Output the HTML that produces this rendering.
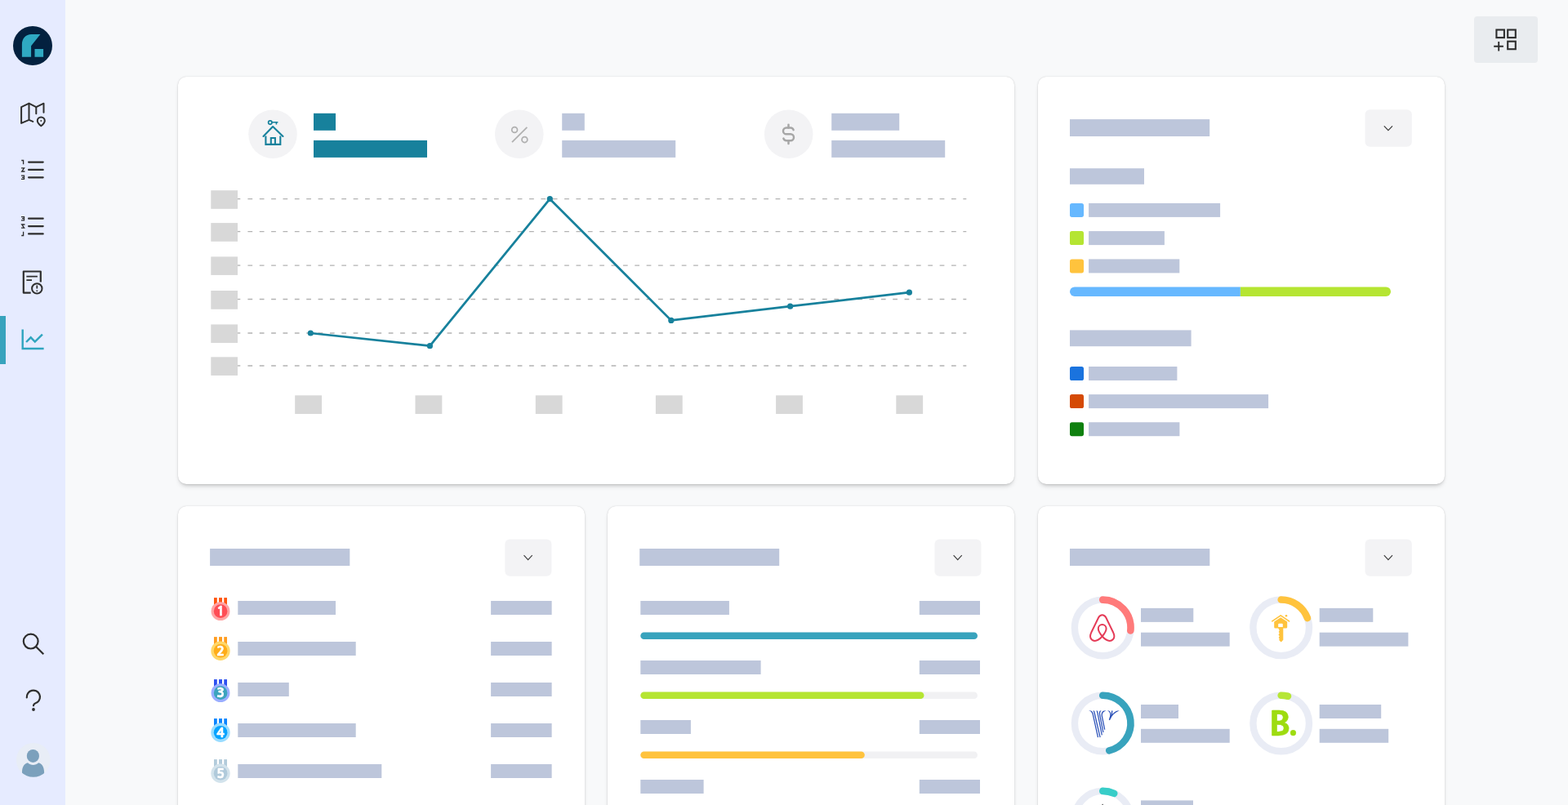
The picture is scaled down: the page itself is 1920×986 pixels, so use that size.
<!DOCTYPE html>
<html lang="en">
<head>
<meta charset="utf-8">
<title>Dashboard</title>
<style>
*{box-sizing:border-box;margin:0;padding:0}
html,body{width:1920px;height:986px;overflow:hidden;background:#f8f9fa;font-family:"Liberation Sans",sans-serif}
#app{position:relative;width:1920px;height:986px;overflow:hidden;background:#f8f9fa}
.side{position:absolute;left:0;top:0;width:80px;height:986px;background:#e6ebff}
.card{position:absolute;background:#fff;border-radius:10px;box-shadow:0 4px 6px -3px rgba(0,0,0,.28),0 0 3px rgba(0,0,0,.08),0 0 1px rgba(0,0,0,.16)}
#art{position:absolute;left:0;top:0;width:1920px;height:986px;overflow:hidden}
.num{font-family:"NanumGothic","Liberation Sans",sans-serif;font-weight:800;fill:#fff;stroke:#fff;stroke-width:.45px;stroke-linejoin:round}
.logo-b{font-family:"NanumGothic","Liberation Sans",sans-serif;font-weight:800;fill:#9edc10;stroke:#9edc10;stroke-width:.5px;stroke-linejoin:round}
</style>
</head>
<body>
<div id="app">
<main>
<section class="card" id="overview" style="left:218px;top:94px;width:1024px;height:499px"></section>
<section class="card" id="properties" style="left:1271px;top:94px;width:498px;height:499px"></section>
<section class="card" id="ranking" style="left:218px;top:620px;width:498px;height:420px"></section>
<section class="card" id="occupancy" style="left:744px;top:620px;width:498px;height:420px"></section>
<section class="card" id="channels" style="left:1271px;top:620px;width:498px;height:420px"></section>
</main>
<nav class="side"></nav>
<svg id="art" width="1920" height="986" viewBox="0 0 1920 986">
<g id="blocks">
<rect x="0" y="387" width="7" height="59" fill="#38a3bd"/>
<rect x="1805" y="20" width="78" height="57" rx="4" fill="#e9ecef"/>
<rect x="384" y="138.8" width="27" height="21" fill="#17819c"/>
<rect x="384" y="171.9" width="139" height="21" fill="#17819c"/>
<rect x="688.2" y="138.8" width="27.6" height="21" fill="#bdc6db"/>
<rect x="688.2" y="171.9" width="139" height="21" fill="#bdc6db"/>
<rect x="1018.2" y="138.8" width="83" height="21" fill="#bdc6db"/>
<rect x="1018.2" y="171.9" width="139" height="21" fill="#bdc6db"/>
<rect x="258.3" y="233.2" width="32.7" height="22.6" fill="#d8d8d8"/>
<rect x="258.3" y="273.1" width="32.7" height="22.7" fill="#d8d8d8"/>
<rect x="258.3" y="314.4" width="32.7" height="22.5" fill="#d8d8d8"/>
<rect x="258.3" y="356" width="32.7" height="22.75" fill="#d8d8d8"/>
<rect x="258.3" y="397.4" width="32.7" height="22.6" fill="#d8d8d8"/>
<rect x="258.3" y="437.3" width="32.7" height="22.6" fill="#d8d8d8"/>
<rect x="361.2" y="484.3" width="32.8" height="22.7" fill="#d8d8d8"/>
<rect x="508.5" y="484.3" width="32.8" height="22.7" fill="#d8d8d8"/>
<rect x="655.8" y="484.3" width="32.8" height="22.7" fill="#d8d8d8"/>
<rect x="802.9" y="484.3" width="32.8" height="22.7" fill="#d8d8d8"/>
<rect x="950.1" y="484.3" width="32.8" height="22.7" fill="#d8d8d8"/>
<rect x="1097.3" y="484.3" width="32.8" height="22.7" fill="#d8d8d8"/>
<rect x="1310" y="146.1" width="171.2" height="20.9" fill="#bdc6db"/>
<rect x="1671.5" y="134.3" width="57.3" height="45.5" rx="6" fill="#f3f3f5"/>
<rect x="1310" y="206.2" width="91" height="19.6" fill="#bdc6db"/>
<rect x="1310" y="248.9" width="17" height="17" rx="2.6" fill="#66b8ff"/>
<rect x="1333.1" y="248.9" width="161" height="17" fill="#bdc6db"/>
<rect x="1310" y="283.1" width="17" height="17" rx="2.6" fill="#b5e532"/>
<rect x="1333.1" y="283.1" width="92.8" height="17" fill="#bdc6db"/>
<rect x="1310" y="317.4" width="17" height="17" rx="2.6" fill="#ffc33d"/>
<rect x="1333.1" y="317.4" width="111.2" height="17" fill="#bdc6db"/>
<rect x="1310" y="404.4" width="148.6" height="19.8" fill="#bdc6db"/>
<rect x="1310" y="449" width="17" height="17" rx="2.6" fill="#1a73de"/>
<rect x="1333.1" y="449" width="108.3" height="17" fill="#bdc6db"/>
<rect x="1310" y="483.1" width="17" height="17" rx="2.6" fill="#d54a05"/>
<rect x="1333.1" y="483.1" width="220" height="17" fill="#bdc6db"/>
<rect x="1310" y="517.2" width="17" height="17" rx="2.6" fill="#0f800f"/>
<rect x="1333.1" y="517.2" width="111.3" height="17" fill="#bdc6db"/>
<rect x="257.1" y="672" width="171.2" height="21" fill="#bdc6db"/>
<rect x="618.3" y="660.5" width="57.1" height="45.2" rx="6" fill="#f3f3f5"/>
<rect x="291.3" y="736" width="119.7" height="17" fill="#bdc6db"/>
<rect x="601.1" y="736" width="74.5" height="17" fill="#bdc6db"/>
<rect x="291.3" y="786" width="144.4" height="17" fill="#bdc6db"/>
<rect x="601.1" y="786" width="74.5" height="17" fill="#bdc6db"/>
<rect x="291.3" y="836" width="62.5" height="17" fill="#bdc6db"/>
<rect x="601.1" y="836" width="74.5" height="17" fill="#bdc6db"/>
<rect x="291.3" y="886" width="144.4" height="17" fill="#bdc6db"/>
<rect x="601.1" y="886" width="74.5" height="17" fill="#bdc6db"/>
<rect x="291.3" y="936" width="176" height="17" fill="#bdc6db"/>
<rect x="601.1" y="936" width="74.5" height="17" fill="#bdc6db"/>
<rect x="783.2" y="672" width="171" height="21" fill="#bdc6db"/>
<rect x="1144.4" y="660.5" width="57.1" height="45.2" rx="6" fill="#f3f3f5"/>
<rect x="784.3" y="736" width="108.6" height="17" fill="#bdc6db"/>
<rect x="1125.8" y="736" width="74.2" height="17" fill="#bdc6db"/>
<rect x="784.3" y="774.5" width="412.7" height="8.6" rx="4.3" fill="#f1f1f3"/>
<rect x="784.3" y="774.5" width="412.7" height="8.6" rx="4.3" fill="#38a3bd"/>
<rect x="784.3" y="809" width="147.3" height="17" fill="#bdc6db"/>
<rect x="1125.8" y="809" width="74.2" height="17" fill="#bdc6db"/>
<rect x="784.3" y="847.5" width="412.7" height="8.6" rx="4.3" fill="#f1f1f3"/>
<rect x="784.3" y="847.5" width="347.2" height="8.6" rx="4.3" fill="#b5e532"/>
<rect x="784.3" y="882" width="61.6" height="17" fill="#bdc6db"/>
<rect x="1125.8" y="882" width="74.2" height="17" fill="#bdc6db"/>
<rect x="784.3" y="920.5" width="412.7" height="8.6" rx="4.3" fill="#f1f1f3"/>
<rect x="784.3" y="920.5" width="274.5" height="8.6" rx="4.3" fill="#ffc33d"/>
<rect x="784.3" y="955" width="77.3" height="17" fill="#bdc6db"/>
<rect x="1125.8" y="955" width="74.2" height="17" fill="#bdc6db"/>
<rect x="784.3" y="993.5" width="412.7" height="8.6" rx="4.3" fill="#f1f1f3"/>
<rect x="784.3" y="993.5" width="200" height="8.6" rx="4.3" fill="#66b8ff"/>
<rect x="1310" y="672" width="171.3" height="21" fill="#bdc6db"/>
<rect x="1671.5" y="660.5" width="57.3" height="45.2" rx="6" fill="#f3f3f5"/>
<rect x="1397" y="744.9" width="64.3" height="17" fill="#bdc6db"/>
<rect x="1397" y="774.7" width="108.7" height="17" fill="#bdc6db"/>
<rect x="1615.7" y="744.9" width="65.6" height="17" fill="#bdc6db"/>
<rect x="1615.7" y="774.7" width="108.7" height="17" fill="#bdc6db"/>
<rect x="1397" y="863" width="46" height="17" fill="#bdc6db"/>
<rect x="1397" y="892.8" width="108.7" height="17" fill="#bdc6db"/>
<rect x="1615.7" y="863" width="75.5" height="17" fill="#bdc6db"/>
<rect x="1615.7" y="892.8" width="84.5" height="17" fill="#bdc6db"/>
<rect x="1397" y="980.4" width="64" height="17" fill="#bdc6db"/>
<rect x="1397" y="1010.2" width="108.7" height="17" fill="#bdc6db"/>
<clipPath id="pbc"><rect x="1310" y="351.4" width="393" height="11.6" rx="5.8"/></clipPath><g clip-path="url(#pbc)"><rect x="1518.8" y="351" width="184.2" height="13" fill="#b5e532"/><rect x="1310" y="351" width="208.8" height="13" fill="#66b8ff"/></g>
</g>
<g id="circles">
<circle cx="334" cy="164.3" r="29.8" fill="#f3f3f5"/>
<circle cx="635.8" cy="164.3" r="29.8" fill="#f3f3f5"/>
<circle cx="965.7" cy="164.3" r="29.8" fill="#f3f3f5"/>
</g>
<g id="logo"><circle cx="40" cy="56" r="24" fill="#03213f"/><path d="M26.9 69.75V54.5C26.9 47.2 31.5 42.1 38.5 42.1H49.4L38.1 56.25V69.75Z" fill="#2fa9c2"/><rect x="42.5" y="60" width="10.6" height="9.75" fill="#2fa9c2"/></g>
<g id="ic-map" fill="none" stroke="#2e2e2e" stroke-width="2" stroke-linejoin="round" stroke-linecap="round"><path d="M35.5 146.9L26.1 150.9V131.1L35.5 126.7V146.9L40.3 148.9"/><path d="M35.5 126.7L44.3 131.1L53.5 126.7V137.7"/><path d="M44.3 131.1V139.3"/><path d="M50.3 154.3C47.6 152 45.8 150.2 45.8 147.9A4.5 4.5 0 0 1 54.8 147.9C54.8 150.2 53 152 50.3 154.3Z"/><circle cx="50.3" cy="148" r="0.9" fill="#2e2e2e" stroke="none"/></g>
<g fill="none" stroke="#2e2e2e" stroke-linecap="round"><path d="M35.1 198.6H52.7" stroke-width="2.2"/><path d="M35.1 207.95H52.7" stroke-width="2.2"/><path d="M35.1 217.3H52.7" stroke-width="2.2"/><g stroke-width="1.3" stroke-linecap="square" stroke-linejoin="miter"><path d="M26.9 196.5H28.6V200.6"/><path d="M26.7 205.9H29.6L26.7 210H29.8"/><path d="M26.6 215.2H29.5V219.4H26.6M27.6 217.3H29.5"/></g></g>
<g transform="translate(0,554) scale(1,-1) translate(0,69)" fill="none" stroke="#2e2e2e" stroke-linecap="round"><path d="M35.1 198.6H52.7" stroke-width="2.2"/><path d="M35.1 207.95H52.7" stroke-width="2.2"/><path d="M35.1 217.3H52.7" stroke-width="2.2"/><g stroke-width="1.3" stroke-linecap="square" stroke-linejoin="miter"><path d="M26.9 196.5H28.6V200.6"/><path d="M26.7 205.9H29.6L26.7 210H29.8"/><path d="M26.6 215.2H29.5V219.4H26.6M27.6 217.3H29.5"/></g></g>
<g id="ic-doc" fill="none" stroke="#2e2e2e" stroke-width="2.2" stroke-linejoin="round"><path d="M37.7 358.6H28.8V332.5H49.8V345.5"/><path d="M32.4 338.6H45.9M32.4 343.1H39" stroke-width="1.8"/><circle cx="45.3" cy="353.4" r="6.2" stroke-width="2"/><path d="M45.3 349.6V353.6M45.3 355.4V356.9" stroke-width="1.7"/></g>
<g id="ic-chart" fill="none" stroke="#2fa5bf" stroke-width="2.4"><path d="M27.7 403.4V427H53.6"/><path d="M32.1 419L37.7 413.3L42.8 418.6L51.9 409.6" stroke-linejoin="miter"/></g>
<g id="ic-search" fill="none" stroke="#2e2e2e" stroke-width="2.2"><circle cx="37.7" cy="785.6" r="8.9"/><path d="M44 792L53.3 801.3"/></g>
<g id="ic-help" fill="none" stroke="#2e2e2e" stroke-width="2.2" stroke-linecap="round"><path d="M32.8 854.4A8.1 8.1 0 1 1 45.5 860.3C42.5 861.6 41 862.3 41 864.3"/><circle cx="41" cy="869" r="1.9" fill="#2e2e2e" stroke="none"/></g>
<g id="avatar"><clipPath id="avc"><circle cx="40.8" cy="930.9" r="20.9"/></clipPath><circle cx="40.8" cy="930.9" r="20.9" fill="#e8edf6"/><g clip-path="url(#avc)" fill="#7ba0bc"><path d="M27 956V946C27 939 30 935 34 934.2C36 936 38.2 937 40.6 937C43 937 45.2 936 47.2 934.2C51 935 54.1 939 54.1 946V956Z"/><ellipse cx="40.4" cy="925.9" rx="7.6" ry="8"/></g></g>
<g id="ic-apps" fill="none" stroke="#2e2e2e" stroke-width="2.1"><rect x="1832.4" y="36.5" width="9.5" height="9.6"/><rect x="1846.2" y="36.5" width="9.6" height="9.6"/><rect x="1846.2" y="50.7" width="9.6" height="9.5"/><path d="M1829.2 56.7H1840.9M1835.2 50.9V62.6" stroke-width="1.9"/></g>
<g id="ic-house" fill="none" stroke="#17819c" stroke-width="2.1" stroke-linejoin="round" stroke-linecap="round"><circle cx="330.8" cy="150.1" r="2.2" stroke-width="1.7"/><path d="M333.2 149.8H340.4M338.4 149.8V152.4" stroke-width="1.6" stroke-linecap="butt"/><path d="M322.5 166.9L334.1 155L346.5 166.9"/><path d="M325.4 166.5V176.9H343.3V166.5" stroke-linecap="butt" stroke-linejoin="miter"/><path d="M331.8 176.9V169H336.9V176.9" stroke-linecap="butt" stroke-linejoin="miter"/></g>
<g id="ic-pct" fill="none" stroke="#b0b0b0" stroke-width="1.75"><circle cx="630.1" cy="158.9" r="3.4"/><circle cx="642.4" cy="171.1" r="3.4"/><path d="M627 174.2L645.4 155.9"/></g>
<g id="ic-usd" fill="none" stroke="#a6a6a6" stroke-width="1.9" stroke-linecap="round" stroke-linejoin="round" transform="translate(949.9,148.75) scale(1.3)"><path d="M16.7 8a3 3 0 0 0 -2.7 -2h-4a3 3 0 0 0 0 6h4a3 3 0 0 1 0 6h-4a3 3 0 0 1 -2.7 -2"/><path d="M12 3v3m0 12v3"/></g>
<g id="grid" stroke="#b2b2b2" stroke-width="1.35" stroke-dasharray="5.75 8.61" fill="none">
<path d="M303.4 243.6H1183.3"/>
<path d="M291 243.6H294.3" stroke-dasharray="none"/>
<path d="M303.4 283.6H1183.3"/>
<path d="M291 283.6H294.3" stroke-dasharray="none"/>
<path d="M303.4 325.05H1183.3"/>
<path d="M291 325.05H294.3" stroke-dasharray="none"/>
<path d="M303.4 366.5H1183.3"/>
<path d="M291 366.5H294.3" stroke-dasharray="none"/>
<path d="M303.4 407.95H1183.3"/>
<path d="M291 407.95H294.3" stroke-dasharray="none"/>
<path d="M303.4 447.95H1183.3"/>
<path d="M291 447.95H294.3" stroke-dasharray="none"/>
</g>
<path d="M380.3 408L526.4 423.7L673.3 243.7L821.8 392.4L967.6 375.2L1113.4 358.2" fill="none" stroke="#17819c" stroke-width="2.75" stroke-linejoin="round"/>
<circle cx="380.3" cy="408" r="3.6" fill="#17819c"/>
<circle cx="526.4" cy="423.7" r="3.6" fill="#17819c"/>
<circle cx="673.3" cy="243.7" r="3.6" fill="#17819c"/>
<circle cx="821.8" cy="392.4" r="3.6" fill="#17819c"/>
<circle cx="967.6" cy="375.2" r="3.6" fill="#17819c"/>
<circle cx="1113.4" cy="358.2" r="3.6" fill="#17819c"/>
<path d="M1694.80 154.30L1699.90 159.70L1705.00 154.30" fill="none" stroke="#3a3a3a" stroke-width="1.15"/>
<path d="M641.50 680.20L646.60 685.60L651.70 680.20" fill="none" stroke="#3a3a3a" stroke-width="1.15"/>
<path d="M1167.60 680.20L1172.70 685.60L1177.80 680.20" fill="none" stroke="#3a3a3a" stroke-width="1.15"/>
<path d="M1694.80 680.20L1699.90 685.60L1705.00 680.20" fill="none" stroke="#3a3a3a" stroke-width="1.15"/>
<g><rect x="262.00" y="732.1" width="3.8" height="10" fill="#ff5510"/><rect x="268.05" y="732.1" width="3.95" height="10" fill="#ff5510"/><rect x="274.25" y="732.1" width="3.75" height="10" fill="#ff5510"/><circle cx="270" cy="748.65" r="11.45" fill="#ffa4a4"/><circle cx="270.1" cy="748.65" r="8.35" fill="#ff4d55"/><text class="num" x="270" y="754.45" font-size="16" text-anchor="middle">1</text></g>
<g><rect x="262.00" y="780.1" width="3.8" height="10" fill="#ff9c1f"/><rect x="268.05" y="780.1" width="3.95" height="10" fill="#ff9c1f"/><rect x="274.25" y="780.1" width="3.75" height="10" fill="#ff9c1f"/><circle cx="270" cy="797.25" r="11.65" fill="#ffd76a"/><circle cx="270.1" cy="797.25" r="8.35" fill="#ffad1a"/><text class="num" x="270" y="803.05" font-size="16" text-anchor="middle">2</text></g>
<g><rect x="262.00" y="832.1" width="3.8" height="10" fill="#2d50f0"/><rect x="268.05" y="832.1" width="3.95" height="10" fill="#2d50f0"/><rect x="274.25" y="832.1" width="3.75" height="10" fill="#2d50f0"/><circle cx="270" cy="848.65" r="11.45" fill="#9aaeff"/><circle cx="270.1" cy="848.65" r="8.35" fill="#3ba4be"/><text class="num" x="270" y="854.45" font-size="16" text-anchor="middle">3</text></g>
<g><rect x="262.00" y="880.1" width="3.8" height="10" fill="#0a84ff"/><rect x="268.05" y="880.1" width="3.95" height="10" fill="#0a84ff"/><rect x="274.25" y="880.1" width="3.75" height="10" fill="#0a84ff"/><circle cx="270" cy="897.25" r="11.65" fill="#99dcff"/><circle cx="270.1" cy="897.25" r="8.35" fill="#05a3ff"/><text class="num" x="270" y="903.05" font-size="16" text-anchor="middle">4</text></g>
<g><rect x="262.00" y="930.1" width="3.8" height="10" fill="#b2cbdb"/><rect x="268.05" y="930.1" width="3.95" height="10" fill="#b2cbdb"/><rect x="274.25" y="930.1" width="3.75" height="10" fill="#b2cbdb"/><circle cx="270" cy="947.25" r="11.65" fill="#d3e3ec"/><circle cx="270.1" cy="947.25" r="8.35" fill="#b0cadb"/><text class="num" x="270" y="953.05" font-size="16" text-anchor="middle">5</text></g>
<circle cx="1350.2" cy="768.9" r="34.3" fill="none" stroke="#e9ecf5" stroke-width="8.4"/><path d="M1350.20 734.60A34.3 34.3 0 0 1 1384.31 772.49" fill="none" stroke="#ff7a7a" stroke-width="8.6" stroke-linecap="round"/>
<circle cx="1568.7" cy="768.8" r="34.3" fill="none" stroke="#e9ecf5" stroke-width="8.4"/><path d="M1568.70 734.50A34.3 34.3 0 0 1 1600.93 757.07" fill="none" stroke="#ffc33d" stroke-width="8.6" stroke-linecap="round"/>
<circle cx="1350.2" cy="886" r="34.3" fill="none" stroke="#e9ecf5" stroke-width="8.4"/><path d="M1350.20 851.70A34.3 34.3 0 0 1 1358.21 919.35" fill="none" stroke="#38a3bd" stroke-width="8.6" stroke-linecap="round"/>
<circle cx="1568.7" cy="886" r="34.3" fill="none" stroke="#e9ecf5" stroke-width="8.4"/><path d="M1568.70 851.70A34.3 34.3 0 0 1 1577.00 852.72" fill="none" stroke="#b6e636" stroke-width="8.6" stroke-linecap="round"/>
<circle cx="1350.3" cy="1003.2" r="34.3" fill="none" stroke="#e9ecf5" stroke-width="8.4"/><path d="M1350.30 968.90A34.3 34.3 0 0 1 1364.25 971.87" fill="none" stroke="#38cdc8" stroke-width="8.6" stroke-linecap="round"/>
<g id="airbnb" fill="none" stroke="#e53b57" stroke-width="2" stroke-linejoin="round"><path d="M1349.7 779.5C1346.6 775.7 1344.8 772.7 1344.8 770A4.9 4.9 0 0 1 1354.6 770C1354.6 772.7 1352.8 775.7 1349.7 779.5C1346.3 783.2 1343.6 784.9 1340.6 784.9A5.6 5.6 0 0 1 1335 779.3C1335 777.5 1335.6 776.1 1336.7 773.7L1345.2 756.3C1346.3 754.2 1347.7 753.2 1349.7 753.2C1351.7 753.2 1353.1 754.2 1354.2 756.3L1362.7 773.7C1363.8 776.1 1364.4 777.5 1364.4 779.3A5.6 5.6 0 0 1 1358.8 784.9C1355.8 784.9 1353.1 783.2 1349.7 779.5Z"/></g>
<g id="hkey" fill="#ffc33d" stroke="none"><path d="M1557.8 760.9L1568.2 753.9L1578.5 760.9" fill="none" stroke="#ffc33d" stroke-width="1.7" stroke-linecap="round" stroke-linejoin="round"/><path d="M1560.2 761.5L1568.2 756.3L1576.2 761.5V768.2Q1576.2 769.6 1574.8 769.6H1571.3V783.8L1568.7 786.5L1566.100 784L1566.7 782.6L1565.7 780.9L1566.8 779.2L1565.5 777.4L1566.7 775.6L1565.7 773.9L1566.7 772.2L1565.2 769.6H1561.600Q1560.2 769.6 1560.2 768.2ZM1565.2 768H1570.8V764.8Q1570.8 763.7 1569.700 763.7H1566.3Q1565.2 763.7 1565.2 764.8Z" fill-rule="evenodd"/><circle cx="1575" cy="754.2" r="1.3"/></g>
<clipPath id="vclip"><rect x="1330" y="870.4" width="45" height="40"/></clipPath><g id="vrbo" fill="none" stroke="#2a50b8" stroke-width="1.25" clip-path="url(#vclip)"><path d="M1333.5 869.6C1336.6 870.6 1337.6 872.2 1338.1 874.3L1344.5 903.2"/><path d="M1338.9 869L1340.2 873.5L1347.1 903.2"/><path d="M1342.8 869L1344 873.5L1349.3 900.3"/><path d="M1348.3 869.6C1346.4 871.4 1346.2 873 1346.6 875.2L1350.9 897"/><path d="M1354 869.8C1350 871.2 1348.8 873.6 1349.3 876.8L1352.7 893.6"/><path d="M1356.3 869.8C1359.4 871.4 1360.4 874 1359.7 877.5L1358.4 882C1360.5 876.5 1364 872.3 1370.3 869.9"/><path d="M1361.6 869.5C1362.1 873 1361.3 876 1359.3 879.6" stroke-width="1.4"/></g>
<text class="logo-b" font-size="39" y="901.35"><tspan x="1554" textLength="27" lengthAdjust="spacingAndGlyphs">B</tspan><tspan x="1577.5" y="898.4" font-size="37.8">.</tspan></text>
<path d="M1349.2 986L1350.100 984.5L1351 986Z" fill="#333"/>
</svg>
</div>
</body>
</html>
